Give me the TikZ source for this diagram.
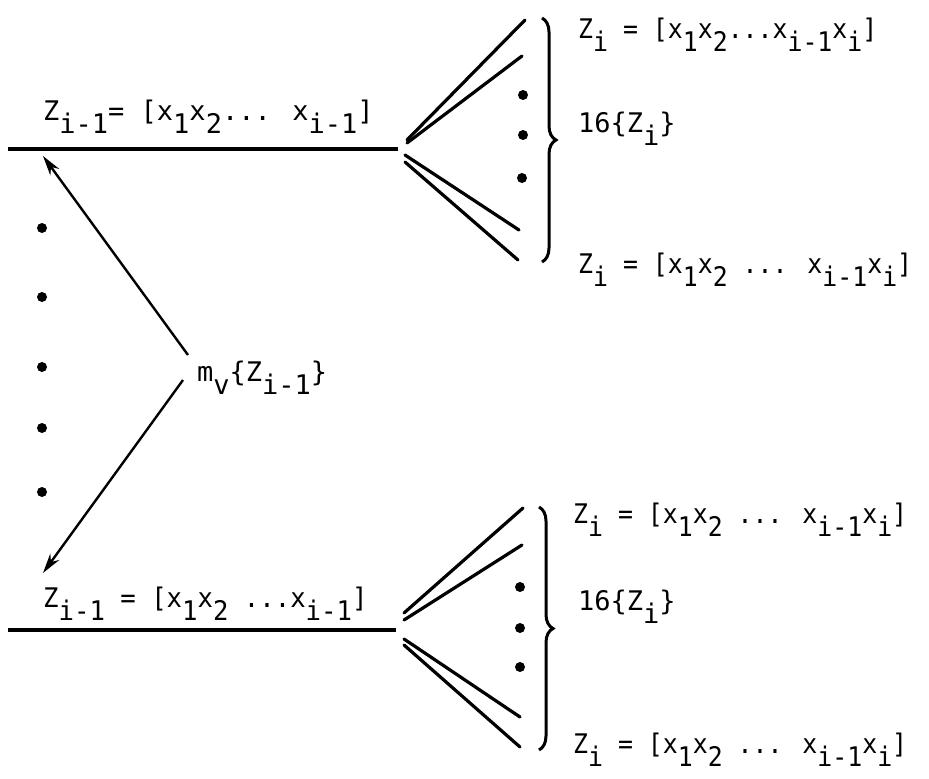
\documentclass[tikz,border=0pt]{standalone}
\usepackage{fontspec}
\setmainfont{DejaVu Sans Mono}
\newfontfamily\narrowmono[FakeStretch=0.92]{DejaVu Sans Mono}
\newfontfamily\semimono[FakeStretch=0.95]{DejaVu Sans Mono}
\usetikzlibrary{arrows.meta,decorations.pathreplacing}
\newcommand{\dn}[1]{\raisebox{-0.5em}{#1}}
\begin{document}
\begin{tikzpicture}[x=1pt,y=-1pt,
  lbl/.style={inner sep=0pt, anchor=base west, font=\fontsize{27}{30}\selectfont},
  rlbl/.style={lbl, font=\narrowmono\fontsize{27}{30}\selectfont},
  rule/.style={line width=3.2pt},
  fan/.style={line width=3.2pt, line cap=round},
  arr/.style={line width=2.4pt, -{Stealth[length=20pt,width=11pt]}},
  dotn/.style={circle, fill, inner sep=0pt, minimum size=10pt},
  brc/.style={decorate, decoration={brace, amplitude=14pt}, line width=3pt}]
\useasboundingbox (0,0) rectangle (929,779);
\fill[white] (0,0) rectangle (929,779);

% left labels
\node[lbl] (t1) at (43,120) {Z\dn{i-1}= [x\dn{1}x\dn{2}... x\dn{i-1}]};
\node[lbl, font=\semimono\fontsize{27}{30}\selectfont] (t2) at (43,607) {Z\dn{i-1} = [x\dn{1}x\dn{2} ...x\dn{i-1}]};
\node[lbl] (m) at (197,381) {m\dn{v}\{Z\dn{i-1}\}};

% right labels, upper group
\node[rlbl] (r1) at (578,38) {Z\dn{i} = [x\dn{1}x\dn{2}...x\dn{i-1}x\dn{i}]};
\node[lbl] (r2) at (578,132) {16\{Z\dn{i}\}};
\node[rlbl] (r3) at (578,273) {Z\dn{i} = [x\dn{1}x\dn{2} ... x\dn{i-1}x\dn{i}]};
% right labels, lower group
\node[rlbl] (r4) at (573,523) {Z\dn{i} = [x\dn{1}x\dn{2} ... x\dn{i-1}x\dn{i}]};
\node[lbl] (r5) at (578,610) {16\{Z\dn{i}\}};
\node[rlbl] (r6) at (573,753) {Z\dn{i} = [x\dn{1}x\dn{2} ... x\dn{i-1}x\dn{i}]};

% horizontal rules
\coordinate (h1a) at (8,149); \coordinate (h1b) at (398,149);
\coordinate (h2a) at (8,630); \coordinate (h2b) at (396,630);
\draw[rule] (h1a) -- (h1b);
\draw[rule] (h2a) -- (h2b);

% upper fan
\coordinate (u1s) at (407,140); \coordinate (u1e) at (525,20);
\coordinate (u2s) at (407,143); \coordinate (u2e) at (522,56);
\coordinate (u3s) at (405,155); \coordinate (u3e) at (519,230);
\coordinate (u4s) at (405,162); \coordinate (u4e) at (518,260);
\draw[fan] (u1s) -- (u1e);
\draw[fan] (u2s) -- (u2e);
\draw[fan] (u3s) -- (u3e);
\draw[fan] (u4s) -- (u4e);
\node[dotn] (ud1) at (523,95) {};
\node[dotn] (ud2) at (523,135) {};
\node[dotn] (ud3) at (522,178) {};
\coordinate (ub1) at (542,18); \coordinate (ub2) at (542,262);
\draw[brc] (ub1) -- (ub2);

% lower fan
\coordinate (l1s) at (404,613); \coordinate (l1e) at (523,508);
\coordinate (l2s) at (404,620); \coordinate (l2e) at (522,545);
\coordinate (l3s) at (404,639); \coordinate (l3e) at (520,717);
\coordinate (l4s) at (404,645); \coordinate (l4e) at (520,747);
\draw[fan] (l1s) -- (l1e);
\draw[fan] (l2s) -- (l2e);
\draw[fan] (l3s) -- (l3e);
\draw[fan] (l4s) -- (l4e);
\node[dotn] (ld1) at (520,587) {};
\node[dotn] (ld2) at (520,628) {};
\node[dotn] (ld3) at (520,667) {};
\coordinate (lb1) at (539,507); \coordinate (lb2) at (539,750);
\draw[brc] (lb1) -- (lb2);

% vertical dots on the left
\foreach \y [count=\k] in {228,297,367,428,492} \node[dotn] (vd\k) at (42,\y) {};

% arrows
\coordinate (aus) at (188,355); \coordinate (aue) at (43,156);
\coordinate (als) at (183,380); \coordinate (ale) at (43,573);
\draw[arr] (aus) -- (aue);
\draw[arr] (als) -- (ale);
\end{tikzpicture}
\end{document}
